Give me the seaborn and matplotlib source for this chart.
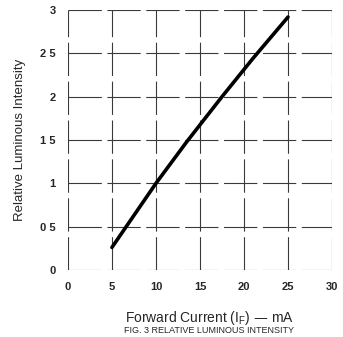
import matplotlib
matplotlib.use("Agg")
import matplotlib.pyplot as plt
import seaborn as sns
import pandas as pd

# values
current_ma = [5, 7.5, 10, 13.5, 17.5, 21, 25]
rel_intensity = [0.26, 0.63, 1.0, 1.48, 2.0, 2.44, 2.92]

x_ticks = [0, 5, 10, 15, 20, 25, 30]
y_ticks = [0, 0.5, 1, 1.5, 2, 2.5, 3]
y_tick_labels = ["0", "0 5", "1", "1 5", "2", "2 5", "3"]

df = pd.DataFrame({"If": current_ma, "Iv": rel_intensity})

sns.set_style("white")
plt.rcParams['font.family'] = ['Liberation Sans', 'DejaVu Sans']

fig = plt.figure(figsize=(3.43, 3.37), dpi=100)
ax = fig.add_axes([0.198, 0.199, 0.77, 0.771])

sns.lineplot(data=df, x="If", y="Iv", color="black", linewidth=2.6, ax=ax)

ax.set_xlim(0, 30)
ax.set_ylim(0, 3)
ax.set_xticks(x_ticks)
ax.set_yticks(y_ticks)
ax.set_xticklabels([str(t) for t in x_ticks], fontsize=8, fontweight="bold")
ax.set_yticklabels(y_tick_labels, fontsize=8, fontweight="bold")
ax.tick_params(length=0, pad=9)

# scanned grid: thin dark lines with a few gaps
ax.grid(True, color="#3a3a3a", linewidth=0.8, linestyle=(0, (30, 5)))
for s in ax.spines.values():
    s.set_visible(False)

ax.set_xlabel("")
ax.set_ylabel("Relative Luminous Intensity", fontsize=9.5, labelpad=10)
fig.text(0.61, 0.045, "Forward Current (I$_\\mathregular{F}$) \u2014 mA", fontsize=10, ha="center")
fig.text(0.61, 0.012, "FIG. 3 RELATIVE LUMINOUS INTENSITY", fontsize=6.5, ha="center")

fig.savefig("out.png", dpi=100)
